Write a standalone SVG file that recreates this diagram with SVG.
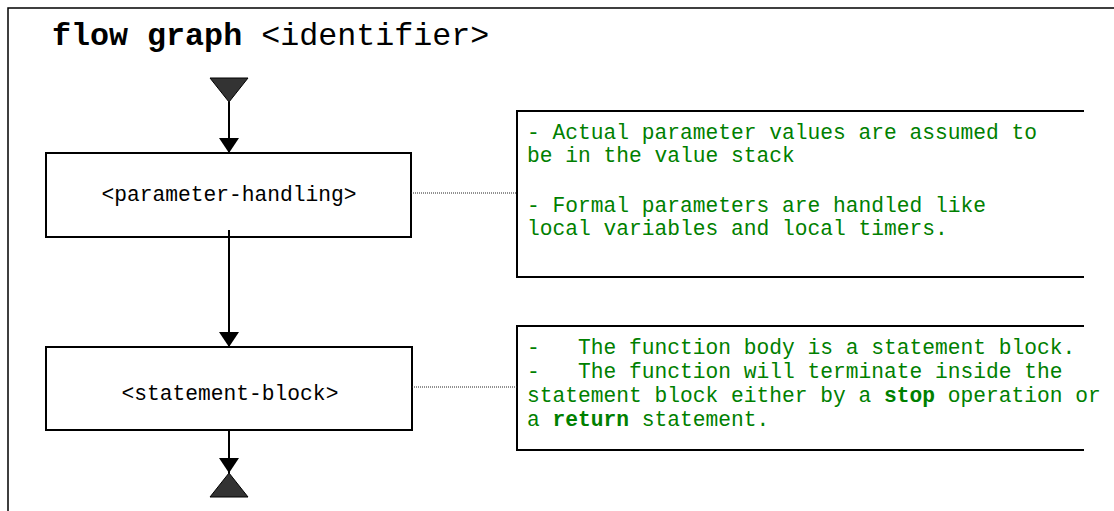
<svg xmlns="http://www.w3.org/2000/svg" width="1114" height="511" viewBox="0 0 1114 511">
  <style>
    .box { fill: #ffffff; stroke: #000000; stroke-width: 2; }
    .note { fill: none; stroke: #000000; stroke-width: 2; }
    .lbl { font-family: "Liberation Mono", "Courier New", monospace; font-size: 21.25px; fill: #000000; }
    .ntxt { font-family: "Liberation Mono", "Courier New", monospace; font-size: 21.25px; fill: #008000; white-space: pre; }
    .title { font-family: "Liberation Mono", "Courier New", monospace; font-size: 31.7px; fill: #000000; white-space: pre; }
    .flow { stroke: #000000; stroke-width: 2; fill: none; }
    .dot { stroke: #222222; stroke-width: 1; stroke-dasharray: 1 1; fill: none; }
    .term { fill: #333333; stroke: #000000; stroke-width: 1; }
  </style>
  <defs>
    <marker id="arrow" viewBox="0 0 15 20" refX="15" refY="10" markerWidth="15" markerHeight="20" markerUnits="userSpaceOnUse" orient="auto">
      <path d="M0,0 L15,10 L0,20 z" fill="#000000"/>
    </marker>
  </defs>

  <rect id="frame" x="8" y="8" width="1120" height="520" fill="#ffffff" stroke="#000000" stroke-width="1.5"/>

  <text id="title" class="title" x="52" y="45"><tspan font-weight="bold">flow graph</tspan> &lt;identifier&gt;</text>

  <g id="start">
    <path class="term" d="M210,78 L248,78 L229,102 z"/>
  </g>

  <g id="parameter-handling">
    <rect class="box" x="46" y="153" width="365" height="84"/>
    <text class="lbl" x="229" y="201" text-anchor="middle">&lt;parameter-handling&gt;</text>
  </g>

  <g id="statement-block">
    <rect class="box" x="46" y="347" width="366" height="83"/>
    <text class="lbl" x="230" y="400" text-anchor="middle">&lt;statement-block&gt;</text>
  </g>

  <g id="end">
    <path class="term" d="M229,473 L248,497 L210,497 z"/>
  </g>

  <g id="note1">
    <path class="note" d="M1084,111 L517,111 L517,277 L1084,277"/>
    <text class="ntxt" x="527" y="139">- Actual parameter values are assumed to</text>
    <text class="ntxt" x="527" y="162">be in the value stack</text>
    <text class="ntxt" x="527" y="212">- Formal parameters are handled like</text>
    <text class="ntxt" x="527" y="235">local variables and local timers.</text>
  </g>

  <g id="note2">
    <path class="note" d="M1084,326 L517,326 L517,450 L1084,450"/>
    <text class="ntxt" x="527" y="354">-   The function body is a statement block.</text>
    <text class="ntxt" x="527" y="378">-   The function will terminate inside the</text>
    <text class="ntxt" x="527" y="402">statement block either by a <tspan font-weight="bold">stop</tspan> operation or</text>
    <text class="ntxt" x="527" y="426">a <tspan font-weight="bold">return</tspan> statement.</text>
  </g>

  <g id="connectors">
    <line class="flow" x1="229" y1="102" x2="229" y2="153" marker-end="url(#arrow)"/>
    <line class="flow" x1="229" y1="230" x2="229" y2="347" marker-end="url(#arrow)"/>
    <line class="flow" x1="229" y1="430" x2="229" y2="473" marker-end="url(#arrow)"/>
    <line class="dot" x1="411" y1="193" x2="517" y2="193"/>
    <line class="dot" x1="412" y1="387" x2="517" y2="387"/>
  </g>
</svg>
